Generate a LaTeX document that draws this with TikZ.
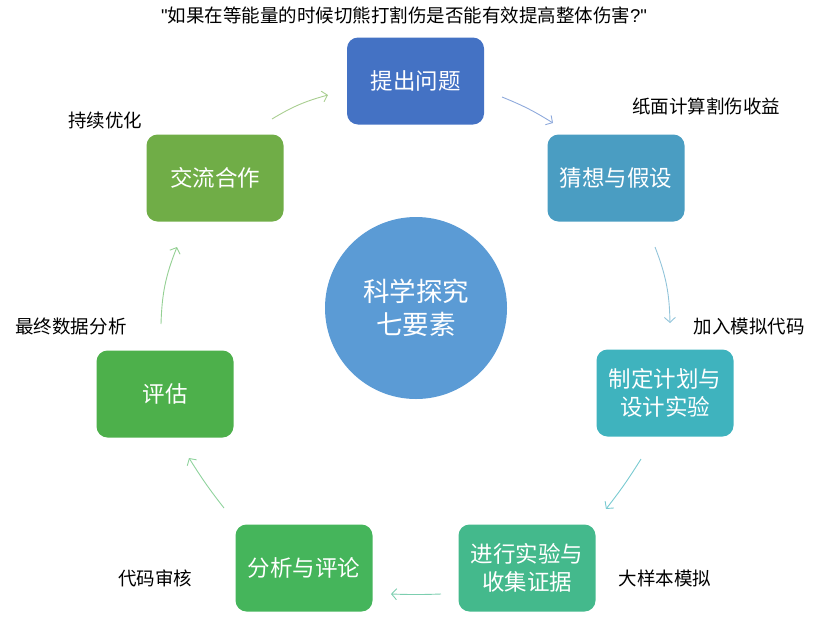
\documentclass[tikz,border=0pt]{standalone}
\usepackage{fontspec}
\setmainfont{Noto Sans CJK SC}
\newfontfamily\latinfont{Liberation Sans}
\usetikzlibrary{arrows.meta}
\definecolor{cA}{HTML}{4472C4}
\definecolor{cB}{HTML}{4A9DC2}
\definecolor{cC}{HTML}{3FB3BE}
\definecolor{cD}{HTML}{44B98C}
\definecolor{cE}{HTML}{45B55B}
\definecolor{cF}{HTML}{4DB04B}
\definecolor{cG}{HTML}{70AD47}
\definecolor{cCirc}{HTML}{5B9BD5}
\tikzset{
  stepbox/.style={rounded corners=11pt, minimum width=137pt, minimum height=87pt, text=white, font=\fontsize{22.5}{28}\selectfont, align=center, inner sep=0pt},
  lbl/.style={font=\fontsize{18.5}{22}\selectfont, text=black, inner sep=0pt},
  conn/.style={line width=0.9pt, -{Straight Barb[length=5pt,width=11pt]}}
}
\begin{document}
\begin{tikzpicture}[x=1pt,y=-1pt]
\useasboundingbox (0,0) rectangle (819,643);
\node[circle, fill=cCirc, minimum size=182pt, inner sep=0pt, text=white, font=\fontsize{26.5}{33}\selectfont, align=center] (core) at (416,308) {科学探究\\七要素};
\node[stepbox, fill=cA] (s1) at (415.5,81) {提出问题};
\node[stepbox, fill=cB] (s2) at (616,178) {猜想与假设};
\node[stepbox, fill=cC] (s3) at (665,393) {制定计划与\\设计实验};
\node[stepbox, fill=cD] (s4) at (527,568) {进行实验与\\收集证据};
\node[stepbox, fill=cE] (s5) at (304,568) {分析与评论};
\node[stepbox, fill=cF] (s6) at (165,394) {评估};
\node[stepbox, fill=cG] (s7) at (215,178) {交流合作};
\node[lbl] (t0) at (404,15) {{\latinfont"}如果在等能量的时候切熊打割伤是否能有效提高整体伤害{\latinfont?"}};
\node[lbl] (l1) at (706,106) {纸面计算割伤收益};
\node[lbl] (l2) at (749,326) {加入模拟代码};
\node[lbl] (l3) at (665,578) {大样本模拟};
\node[lbl] (l4) at (155,578) {代码审核};
\node[lbl] (l5) at (71,326) {最终数据分析};
\node[lbl] (l6) at (105,120) {持续优化};
\coordinate (a1s) at (272,119); \coordinate (a1e) at (328,95);
\coordinate (a2s) at (502,97); \coordinate (a2e) at (553,123);
\coordinate (a3s) at (655,247); \coordinate (a3e) at (670,323);
\coordinate (a4s) at (641,459); \coordinate (a4e) at (606,509);
\coordinate (a5s) at (441,594); \coordinate (a5e) at (391,594);
\coordinate (a6s) at (224,508); \coordinate (a6e) at (189,458);
\coordinate (a7s) at (161,324); \coordinate (a7e) at (177,247);
\draw[conn, color=cG!60] (a1s) to[bend left=8] (a1e);
\draw[conn, color=cA!60] (a2s) to[bend left=5] (a2e);
\draw[conn, color=cB!60] (a3s) to[bend left=10] (a3e);
\draw[conn, color=cC!70] (a4s) to[bend left=3] (a4e);
\draw[conn, color=cD!70] (a5s) to[bend left=2] (a5e);
\draw[conn, color=cE!60] (a6s) to[bend left=3] (a6e);
\draw[conn, color=cF!60] (a7s) to[bend left=10] (a7e);
\end{tikzpicture}
\end{document}
